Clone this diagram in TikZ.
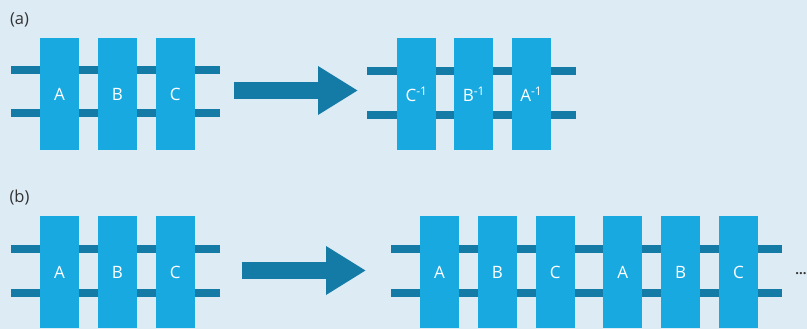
\documentclass[tikz,border=0pt]{standalone}
\usepackage{fontspec}
\setmainfont{Open Sans}
\usepackage{xcolor}
\definecolor{Pale Sky}{HTML}{DDEBF4}
\definecolor{Gate Blue}{HTML}{19A9E1}
\definecolor{Wire Blue}{HTML}{137BA6}
\definecolor{Ink}{HTML}{333333}
\colorlet{cBack}{Pale Sky}
\colorlet{cGate}{Gate Blue}
\colorlet{cWire}{Wire Blue}
\usepackage{tikz}
\usetikzlibrary{positioning, arrows.meta}
\tikzset{
	node distance = 18.5pt,
	gate/.style={
		fill=cGate,
		text=white,
		inner sep=0pt,
		minimum width=39pt,
		minimum height=112pt,
		font=\fontsize{17}{17}\selectfont
	},
	wire/.style={
		draw=cWire,
		line width=8pt
	},
	bigarrow/.style={
		draw=cWire,
		line width=17pt,
		-{Triangle[width=46pt, length=40pt]}
	},
	tag/.style={
		text=Ink,
		inner sep=0pt,
		font=\fontsize{16.5}{16.5}\selectfont
	}
}

\begin{document}
\begin{tikzpicture}[x=1pt, y=-1pt]
\useasboundingbox[fill=cBack] (0,0) rectangle (807,329);

% ---
% (a) inverting a sequence of gates
% ---
\node[tag] at (19.5,20) (tagA) {(a)};

\coordinate (aLt0) at (11,70);
\coordinate (aLt1) at (220,70);
\coordinate (aLb0) at (11,113.5);
\coordinate (aLb1) at (220,113.5);
\draw[wire] (aLt0) -- (aLt1);
\draw[wire] (aLb0) -- (aLb1);

\node[gate] at (59.5,94) (aA) {A};
\node[gate, right=of aA] (aB) {B};
\node[gate, right=of aB] (aC) {C};

\coordinate (arrA0) at (234,90.5);
\coordinate (arrA1) at (358,90.5);
\draw[bigarrow] (arrA0) -- (arrA1);

\coordinate (aRt0) at (367,71.5);
\coordinate (aRt1) at (576,71.5);
\coordinate (aRb0) at (367,115);
\coordinate (aRb1) at (576,115);
\draw[wire] (aRt0) -- (aRt1);
\draw[wire] (aRb0) -- (aRb1);

\node[gate] at (416.5,94) (aCi) {C\textsuperscript{-1}};
\node[gate, right=18pt of aCi] (aBi) {B\textsuperscript{-1}};
\node[gate, right=18pt of aBi] (aAi) {A\textsuperscript{-1}};

% ---
% (b) repeating the sequence
% ---
\node[tag] at (19.5,198) (tagB) {(b)};

\coordinate (bLt0) at (11,249);
\coordinate (bLt1) at (220,249);
\coordinate (bLb0) at (11,292.5);
\coordinate (bLb1) at (220,292.5);
\draw[wire] (bLt0) -- (bLt1);
\draw[wire] (bLb0) -- (bLb1);

\node[gate] at (59.5,272) (bA) {A};
\node[gate, right=of bA] (bB) {B};
\node[gate, right=of bB] (bC) {C};

\coordinate (arrB0) at (242,270.5);
\coordinate (arrB1) at (366,270.5);
\draw[bigarrow] (arrB0) -- (arrB1);

\coordinate (bRt0) at (391,249);
\coordinate (bRt1) at (782,249);
\coordinate (bRb0) at (391,292.5);
\coordinate (bRb1) at (782,292.5);
\draw[wire] (bRt0) -- (bRt1);
\draw[wire] (bRb0) -- (bRb1);

\node[gate] at (439.5,272) (bA1) {A};
\node[gate, right=of bA1] (bB1) {B};
\node[gate, right=of bB1] (bC1) {C};
\node[gate, right=28pt of bC1] (bA2) {A};
\node[gate, right=of bA2] (bB2) {B};
\node[gate, right=of bB2] (bC2) {C};

\node[tag, font=\fontsize{13}{13}\selectfont\bfseries] at (801,274) (dots) {...};

\end{tikzpicture}
\end{document}
